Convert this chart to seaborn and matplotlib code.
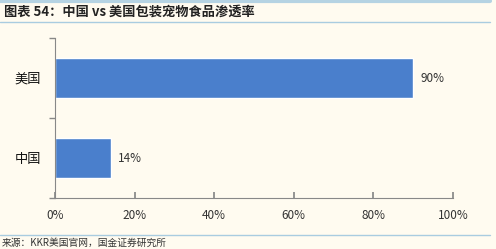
import matplotlib
matplotlib.use("Agg")
import matplotlib.pyplot as plt
import seaborn as sns
import pandas as pd
from matplotlib.lines import Line2D

categories = ["美国", "中国"]
values = [90, 14]
xticks = [0, 20, 40, 60, 80, 100]
xtick_labels = ["0%", "20%", "40%", "60%", "80%", "100%"]
title = "图表 54：中国 vs 美国包装宠物食品渗透率"
source = "来源：KKR美国官网，国金证券研究所"

sns.set_theme(style="white")
plt.rcParams['font.family'] = ['Noto Sans CJK SC', 'DejaVu Sans']

bg = "#FFFBF0"
W, H = 496, 249
fig = plt.figure(figsize=(W / 100, H / 100), dpi=100, facecolor=bg)
ax = fig.add_axes([55 / W, (H - 198) / H, (453 - 55) / W, 160 / H])
ax.set_facecolor(bg)

df = pd.DataFrame({"cat": categories, "val": values})
sns.barplot(data=df, x="val", y="cat", orient="h", color="#4A7FCC",
            saturation=1, width=0.5, ax=ax)

ax.set_xlim(0, 100)
ax.set_ylim(1.5, -0.5)
ax.set_xticks(xticks)
ax.set_xticklabels(xtick_labels, fontsize=8.5, color="#333333")
ax.set_yticks([0, 1])
ax.set_yticklabels(categories, fontsize=9.5, color="#111111")
ax.set_xlabel("")
ax.set_ylabel("")
for s in ["top", "right"]:
    ax.spines[s].set_visible(False)
for s in ["left", "bottom"]:
    ax.spines[s].set_color("#888888")
    ax.spines[s].set_linewidth(0.8)
ax.tick_params(axis="x", which="both", bottom=True, direction="in", length=4,
               color="#888888", pad=8)
ax.tick_params(axis="y", left=False, length=0, pad=10)
# minor y ticks between categories
ax.set_yticks([-0.5, 0.5, 1.5], minor=True)
ax.tick_params(axis="y", which="minor", left=True, direction="out", length=4,
               color="#888888")

for i, v in enumerate(values):
    ax.text(v + 1.8, i, f"{v}%", va="center", ha="left", fontsize=8.5,
            color="#333333")

# decorations
fig.add_artist(Line2D([0, 490 / W], [1 - 1.5 / H, 1 - 1.5 / H], color="#B5D3E3",
                      lw=3, transform=fig.transFigure))
fig.add_artist(Line2D([0, 490 / W], [1 - 22 / H, 1 - 22 / H], color="#A9CCE0",
                      lw=1, transform=fig.transFigure))
fig.add_artist(Line2D([0, 490 / W], [1 - 235 / H, 1 - 235 / H], color="#A9CCE0",
                      lw=1, transform=fig.transFigure))
fig.text(4 / W, 1 - 12 / H, title, fontsize=9.5, fontweight="bold",
         va="center", ha="left", color="#222222")
fig.text(2 / W, 1 - 243 / H, source, fontsize=7, va="center", ha="left",
         color="#333333")

fig.savefig("out.png", dpi=100, facecolor=bg)
